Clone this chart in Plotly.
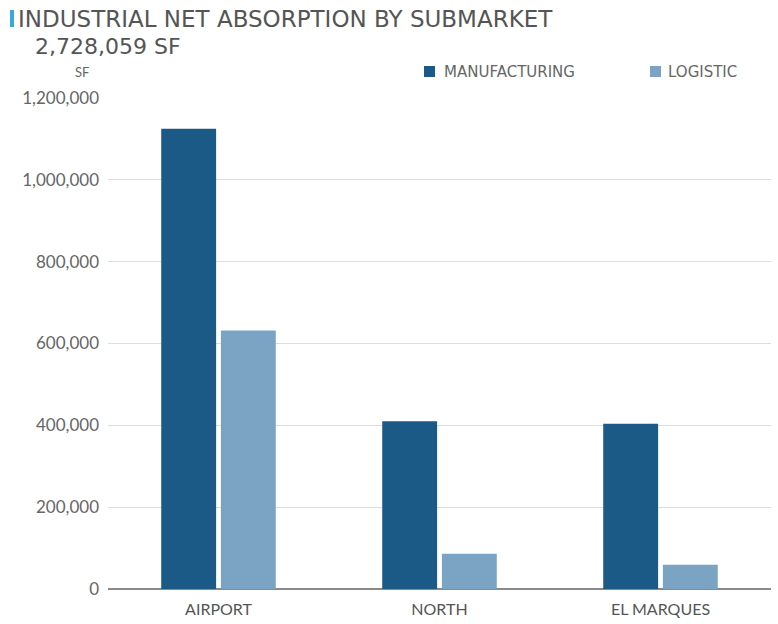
import plotly.graph_objects as go

categories = ["AIRPORT", "NORTH", "EL MARQUES"]
manufacturing = [1125000, 410000, 404000]
logistic = [632000, 86000, 59000]
tick_vals = [0, 200000, 400000, 600000, 800000, 1000000, 1200000]
tick_text = ["0", "200,000", "400,000", "600,000", "800,000", "1,000,000", "1,200,000"]

W, H = 778, 624
ml, mr, mt, mb = 108, 7, 98, 35

fig = go.Figure()
fig.add_trace(go.Bar(name="MANUFACTURING", x=categories, y=manufacturing,
                     marker=dict(color="#1b5a87", line=dict(width=0))))
fig.add_trace(go.Bar(name="LOGISTIC", x=categories, y=logistic,
                     marker=dict(color="#7ba3c4", line=dict(width=0))))

fig.update_layout(
    width=W, height=H,
    margin=dict(l=ml, r=mr, t=mt, b=mb),
    paper_bgcolor="white", plot_bgcolor="white",
    barmode="group", bargap=0.46, bargroupgap=0.08,
    showlegend=False,
    font=dict(family="Lato, sans-serif", color="#666666"),
    xaxis=dict(showgrid=False, ticks="", tickfont=dict(size=16, color="#555555"),
               showline=False, zeroline=False, ticklabelstandoff=9),
    yaxis=dict(range=[0, 1200000], tickvals=tick_vals, ticktext=tick_text,
               showgrid=True, gridcolor="#dddddd", gridwidth=1,
               zeroline=True, zerolinecolor="#8a8a8a", zerolinewidth=2,
               tickfont=dict(size=17, color="#666666"), ticks="", ticklabelstandoff=8),
)

def px_x(x):
    return (x - ml) / (W - ml - mr)

def px_y(y):
    return (H - mb - y) / (H - mt - mb)

# title accent bar
fig.add_shape(type="rect", xref="paper", yref="paper",
              x0=px_x(10), x1=px_x(14), y0=px_y(27), y1=px_y(10),
              fillcolor="#3aa8dc", line=dict(width=0))

fig.add_annotation(text="INDUSTRIAL NET ABSORPTION BY SUBMARKET", xref="paper", yref="paper",
                   x=px_x(16), y=px_y(19), xanchor="left", yanchor="middle", showarrow=False,
                   font=dict(family="DejaVu Sans, sans-serif", size=23, color="#555555"))
fig.add_annotation(text="2,728,059 SF", xref="paper", yref="paper",
                   x=px_x(33), y=px_y(46), xanchor="left", yanchor="middle", showarrow=False,
                   font=dict(family="DejaVu Sans, sans-serif", size=22, color="#555555"))
fig.add_annotation(text="SF", xref="paper", yref="paper",
                   x=px_x(82), y=px_y(72), xanchor="center", yanchor="middle", showarrow=False,
                   font=dict(family="Lato, sans-serif", size=13, color="#666666"))

# legend
for name, color, x0, tx in [("MANUFACTURING", "#1b5a87", 424, 442),
                            ("LOGISTIC", "#7ba3c4", 650, 666)]:
    fig.add_shape(type="rect", xref="paper", yref="paper",
                  x0=px_x(x0), x1=px_x(x0 + 11), y0=px_y(77), y1=px_y(66),
                  fillcolor=color, line=dict(width=0))
    fig.add_annotation(text=name, xref="paper", yref="paper",
                       x=px_x(tx), y=px_y(72), xanchor="left", yanchor="middle", showarrow=False,
                       font=dict(family="DejaVu Sans, sans-serif", size=15, color="#666666"))

fig.write_html("out.html", config={"displayModeBar": False},
               post_script="document.body.style.margin='0';document.body.style.padding='0';")
